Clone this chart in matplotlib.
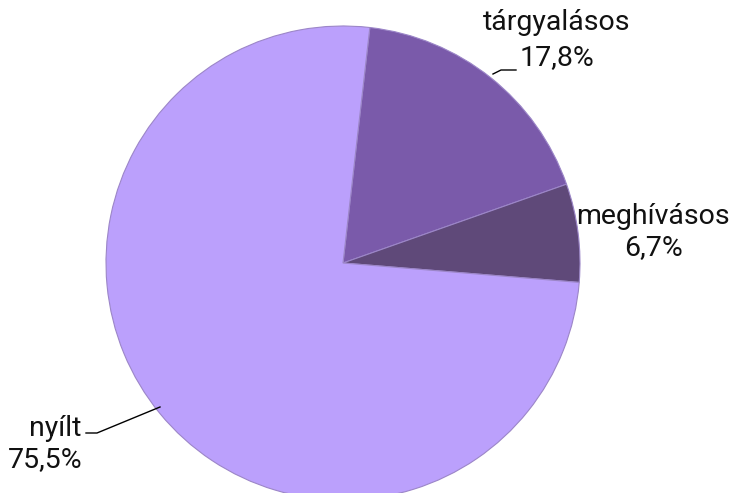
import matplotlib
matplotlib.use("Agg")
import matplotlib.pyplot as plt

categories = ["tárgyalásos", "meghívásos", "nyílt"]
values = [17.8, 6.7, 75.5]
colors = ["#7A5AAA", "#5F4979", "#BBA0FC"]

plt.rcParams['font.family'] = ['Roboto', 'DejaVu Sans']

W, H = 744, 493
fig = plt.figure(figsize=(W / 100, H / 100), dpi=100)
ax = fig.add_axes([0, 0, 1, 1])

cx, cy, r = 343, H - 263, 237
wedges, _ = ax.pie(values, colors=colors, startangle=83.5, counterclock=False,
                   center=(cx, cy), radius=r, frame=True,
                   wedgeprops=dict(edgecolor="#9c86c8", linewidth=0.8))
ax.set_xlim(0, W)
ax.set_ylim(0, H)
ax.set_aspect('equal')
ax.axis('off')

def fmt(v):
    return f"{v:.1f}%".replace('.', ',')

fs = 20.5
tc = '#111111'
# tárgyalásos
ax.text(557, H - 22, categories[0], ha='center', va='center', fontsize=fs, color=tc)
ax.text(557, H - 58, fmt(values[0]), ha='center', va='center', fontsize=fs, color=tc)
ax.plot([493, 501, 516], [H - 74, H - 70, H - 70], color='black', lw=1)
# meghívásos
ax.text(653, H - 216, categories[1], ha='center', va='center', fontsize=fs, color=tc)
ax.text(653, H - 248, fmt(values[1]), ha='center', va='center', fontsize=fs, color=tc)
# nyílt
ax.text(81, H - 428, categories[2], ha='right', va='center', fontsize=fs, color=tc)
ax.text(45, H - 460, fmt(values[2]), ha='center', va='center', fontsize=fs, color=tc)
ax.plot([86, 97, 160], [H - 433, H - 433, H - 407], color='black', lw=1)

fig.savefig("out.png", dpi=100)
